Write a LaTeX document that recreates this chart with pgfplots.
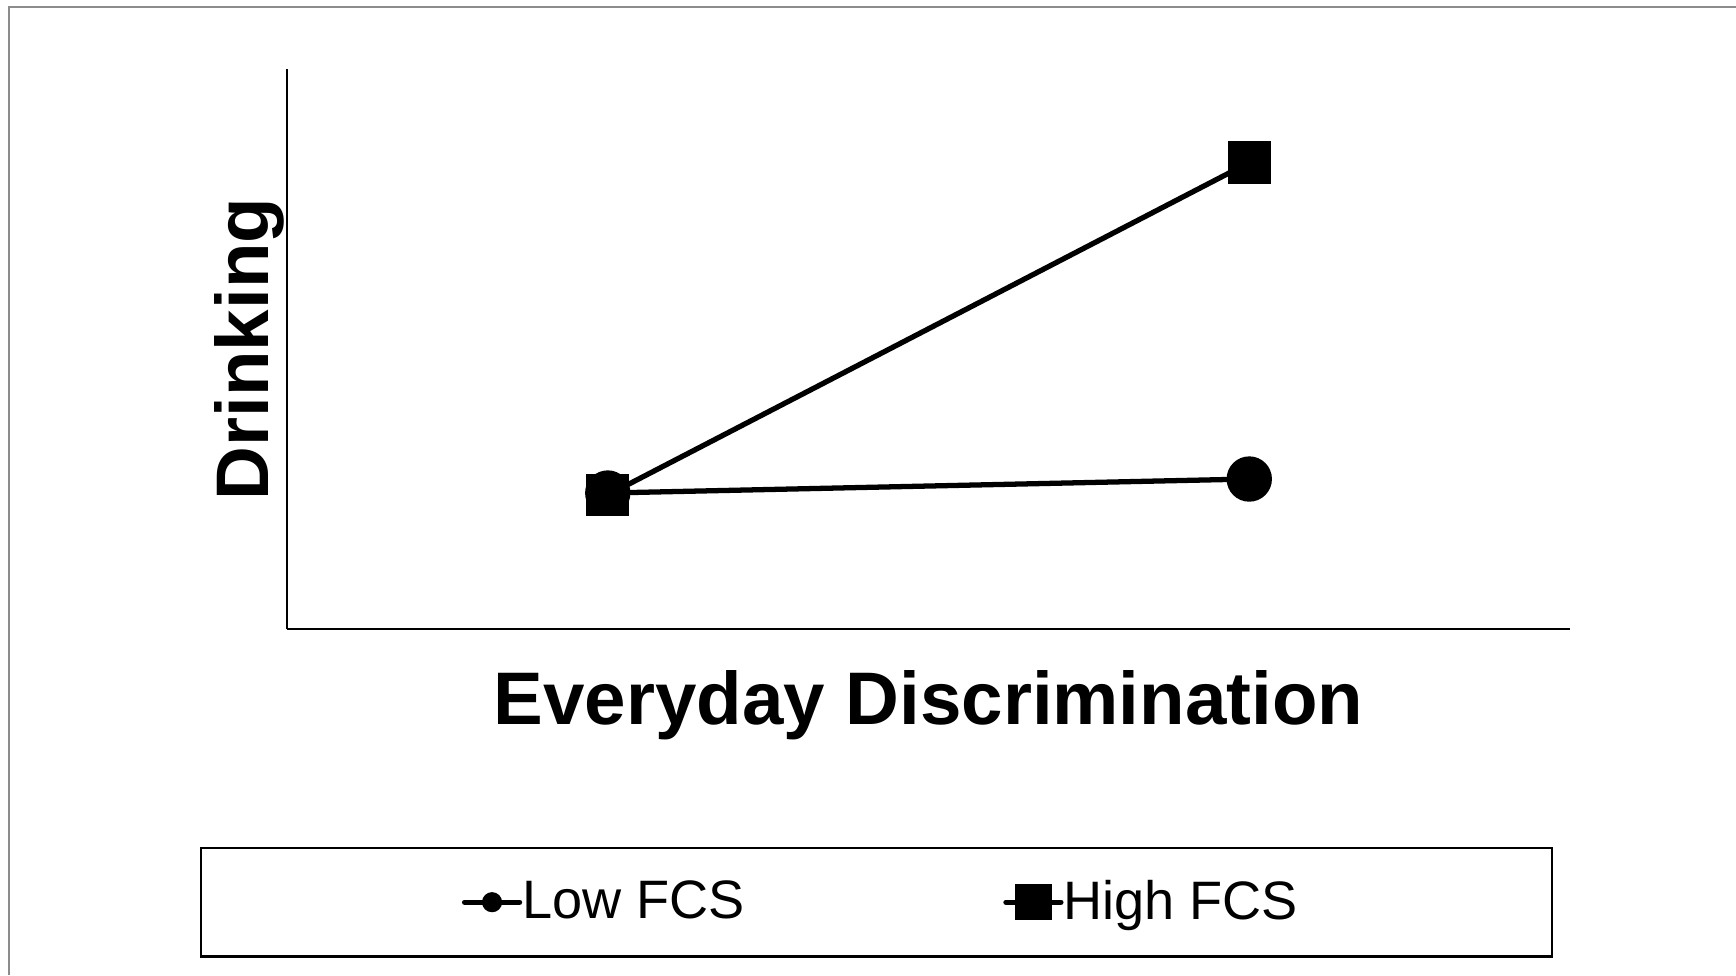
\documentclass[border=0pt]{standalone}
\usepackage{pgfplots}
\pgfplotsset{compat=1.18}
\usepackage{fontspec}
\setmainfont{Liberation Sans}

\begin{document}
\begin{tikzpicture}
	% page frame, 1 px of the reference = 0.1 mm
	\path[use as bounding box] (0,0) rectangle (173.6mm,-97.5mm);
	\draw[color=black!45, line width=0.2mm] (0.9mm,-97.5mm) -- (0.9mm,-0.7mm) -- (173.6mm,-0.7mm);

	\begin{axis}[
		at={(28.7mm,-62.9mm)}, anchor=south west,
		scale only axis,
		width=128.3mm, height=56mm,
		xmin=-0.5, xmax=1.5,
		ymin=0, ymax=560,
		axis x line=bottom, axis y line=left,
		axis line style={-, line width=0.6pt},
		xtick=\empty, ytick=\empty,
		clip=false,
		xlabel={Everyday Discrimination},
		ylabel={Drinking},
		label style={font=\fontsize{21.2}{25}\selectfont\bfseries},
		xlabel style={at={(axis description cs:0.5,-0.073)}, anchor=north, inner sep=0pt},
		ylabel style={at={(axis description cs:-0.0014,0.5)}, anchor=south, inner sep=0pt},
		legend columns=2,
		legend image code/.code={
			\path (0cm,0cm);
			\draw[mark repeat=2, mark phase=2, line cap=round]
				plot coordinates {(0.17cm,0cm) (0.445cm,0cm) (0.72cm,0cm)};
		},
		legend style={
			at={(rel axis cs:0.4595,-0.389)}, anchor=north,
			draw=black, line width=0.6pt,
			font=\fontsize{15.4}{18}\selectfont,
			inner xsep=24.35mm, inner ysep=2.5mm,
			nodes={inner xsep=1mm},
			/tikz/every odd column/.append style={column sep=-1mm},
			/tikz/every even column/.append style={column sep=23.15mm},
		},
	]
	\addplot[black, line width=1.5pt, mark=*, mark size=5.7pt,
		mark options={fill=black},
		legend image post style={mark size=2.1pt}]
	coordinates {
		(0, 136) (1, 150)
	};
	\addlegendentry{Low FCS}

	\addplot[black, line width=1.5pt, mark=square*, mark size=5.3pt,
		mark options={fill=black},
		legend image post style={mark size=4.4pt}]
	coordinates {
		(0, 134) (1, 466.5)
	};
	\addlegendentry{High FCS}
	\end{axis}
\end{tikzpicture}
\end{document}
